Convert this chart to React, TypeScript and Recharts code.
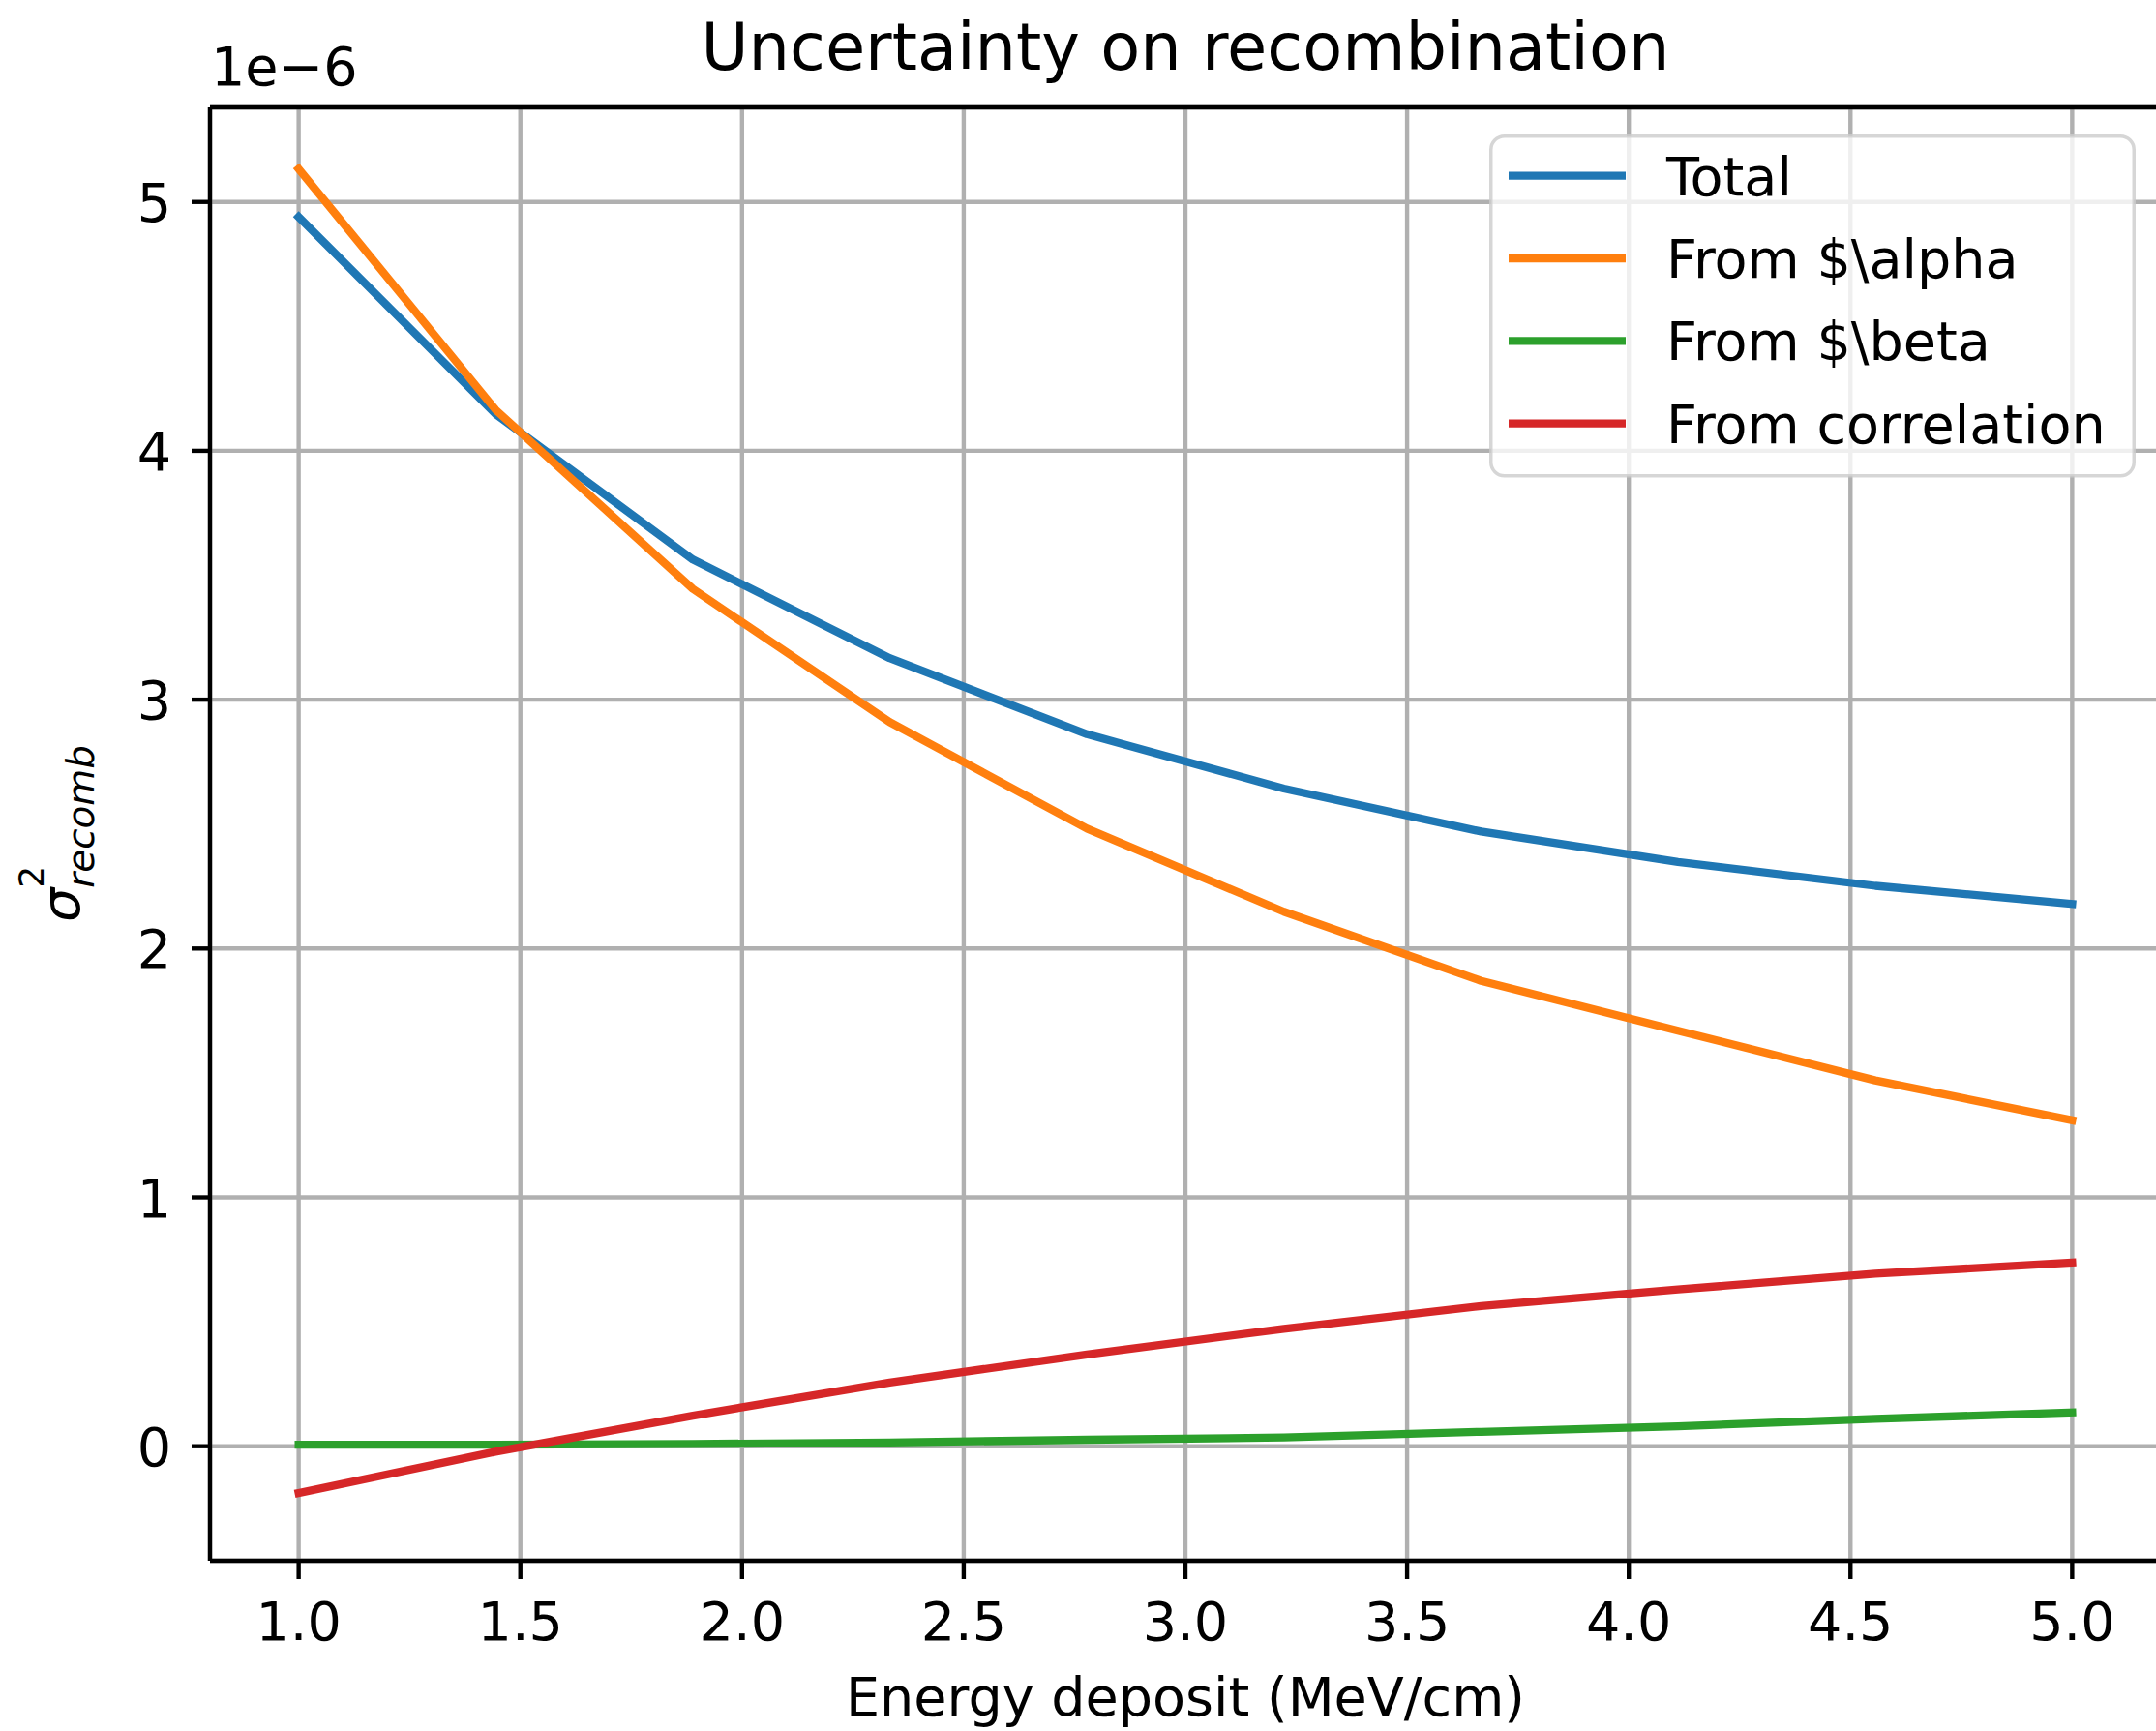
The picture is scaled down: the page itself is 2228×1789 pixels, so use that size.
import React from "react";
import { LineChart, Line, XAxis, YAxis, CartesianGrid, ReferenceLine, Legend, Customized } from "recharts";

// values are in units of 1e-6
const energy = [1.0, 1.444, 1.889, 2.333, 2.778, 3.222, 3.667, 4.111, 4.556, 5.0];
const total = [4.94, 4.148, 3.563, 3.167, 2.861, 2.643, 2.47, 2.348, 2.252, 2.179];
const fromAlpha = [5.133, 4.165, 3.445, 2.91, 2.482, 2.148, 1.87, 1.67, 1.47, 1.31];
const fromBeta = [0.006, 0.006, 0.009, 0.015, 0.026, 0.035, 0.058, 0.08, 0.11, 0.136];
const fromCorrelation = [-0.188, -0.022, 0.123, 0.256, 0.369, 0.472, 0.563, 0.63, 0.693, 0.738];

const xTicks = [1.0, 1.5, 2.0, 2.5, 3.0, 3.5, 4.0, 4.5, 5.0];
const yTicks = [0, 1, 2, 3, 4, 5];
const xDomain: [number, number] = [0.8, 5.2];
const yDomain: [number, number] = [-0.46, 5.38];

const series = [
  { key: "total", name: "Total", color: "#1f77b4" },
  { key: "alpha", name: "From $\\alpha", color: "#ff7f0e" },
  { key: "beta", name: "From $\\beta", color: "#2ca02c" },
  { key: "corr", name: "From correlation", color: "#d62728" },
];

const data = energy.map((e, i) => ({
  energy: e,
  total: total[i],
  alpha: fromAlpha[i],
  beta: fromBeta[i],
  corr: fromCorrelation[i],
}));

const FONT = "'DejaVu Sans', sans-serif";
const FS = 55.6;
const SPINE = 4.4;

const XTick = (props: any) => {
  const { x, y, payload } = props;
  return (
    <text x={x} y={y + 63} textAnchor="middle" fontSize={FS} fontFamily={FONT} fill="#000">
      {Number(payload.value).toFixed(1)}
    </text>
  );
};

const YTick = (props: any) => {
  const { y, payload } = props;
  return (
    <text x={177} y={y + 20} textAnchor="end" fontSize={FS} fontFamily={FONT} fill="#000">
      {payload.value}
    </text>
  );
};

const Annotations = () => (
  <g fontFamily={FONT} fill="#000">
    <text x={1225} y={72} textAnchor="middle" fontSize={67}>
      Uncertainty on recombination
    </text>
    <text x={218} y={88} fontSize={FS}>
      1e−6
    </text>
    <text x={1225} y={1773} textAnchor="middle" fontSize={FS}>
      Energy deposit (MeV/cm)
    </text>
    <text transform="translate(82,953) rotate(-90)" fontSize={FS}>
      <tspan fontStyle="italic">σ</tspan>
      <tspan fontSize={36} dy={-37}>2</tspan>
      <tspan fontSize={38.9} fontStyle="italic" dx={-22.9} dy={51.7}>
        recomb
      </tspan>
    </text>
  </g>
);

const LegendBox = () => (
  <svg width={668} height={355} style={{ display: "block" }}>
    <rect x={1.75} y={1.75} width={664.5} height={351} rx={14} ry={14}
      fill="rgba(255,255,255,0.8)" stroke="rgba(204,204,204,0.8)" strokeWidth={3.5} />
    {series.map((s, i) => {
      const cy = 42.7 + i * 85.3;
      return (
        <g key={s.key}>
          <line x1={20} x2={141} y1={cy} y2={cy} stroke={s.color} strokeWidth={8.3} />
          <text x={183} y={cy + 20} fontSize={FS} fontFamily={FONT} fill="#000">
            {s.name}
          </text>
        </g>
      );
    })}
  </svg>
);

export default function App() {
  return (
    <div style={{ position: "absolute", left: 0, top: 0, width: 2228, height: 1789, overflow: "hidden", background: "#fff" }}>
      <LineChart
        width={2240}
        height={1789}
        data={data}
        margin={{ top: 111, right: 7, bottom: 0, left: 0 }}
        style={{ fontFamily: FONT }}
      >
        <CartesianGrid stroke="#b0b0b0" strokeWidth={SPINE} />
        <XAxis
          type="number"
          dataKey="energy"
          domain={xDomain}
          ticks={xTicks}
          allowDataOverflow
          height={176}
          tickSize={19}
          tickMargin={0}
          axisLine={{ stroke: "#000", strokeWidth: SPINE }}
          tickLine={{ stroke: "#000", strokeWidth: SPINE }}
          tick={<XTick />}
        />
        <YAxis
          type="number"
          domain={yDomain}
          ticks={yTicks}
          allowDataOverflow
          width={217}
          tickSize={19}
          tickMargin={0}
          axisLine={{ stroke: "#000", strokeWidth: SPINE }}
          tickLine={{ stroke: "#000", strokeWidth: SPINE }}
          tick={<YTick />}
        />
        <ReferenceLine y={yDomain[1]} stroke="#000" strokeWidth={SPINE} />
        {series.map((s) => (
          <Line
            key={s.key}
            type="linear"
            dataKey={s.key}
            name={s.name}
            stroke={s.color}
            strokeWidth={8.3}
            strokeLinecap="square"
            strokeLinejoin="round"
            dot={false}
            activeDot={false}
            isAnimationActive={false}
          />
        ))}
        <Legend
          layout="vertical"
          align="center"
          verticalAlign="middle"
          content={() => <LegendBox />}
          wrapperStyle={{ position: "absolute", left: 1539, top: 139, width: 668, height: 355 }}
        />
        <Customized component={Annotations} />
      </LineChart>
    </div>
  );
}
